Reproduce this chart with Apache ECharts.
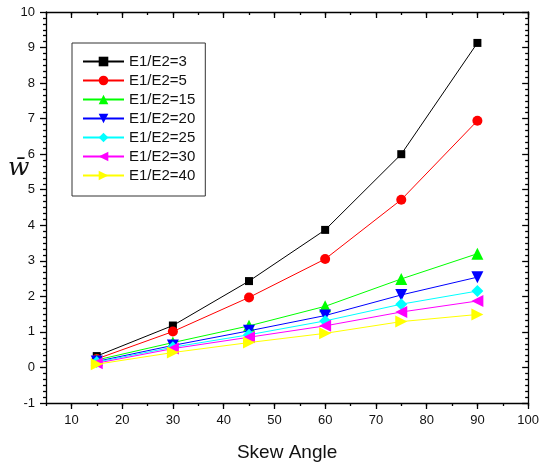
<!DOCTYPE html>
<html>
<head>
<meta charset="utf-8">
<script src="https://cdn.jsdelivr.net/npm/echarts@6/dist/echarts.min.js"></script>
<style>
html,body{margin:0;padding:0;background:#fff;}
#c{width:542px;height:467px;}
</style>
</head>
<body>
<div id="c"></div>
<script>
var skewAngles = [15, 30, 45, 60, 75, 90];
var seriesNames = ['E1/E2=3', 'E1/E2=5', 'E1/E2=15', 'E1/E2=20', 'E1/E2=25', 'E1/E2=30', 'E1/E2=40'];
var w3  = [0.32, 1.18, 2.43, 3.87, 6.00, 9.13];
var w5  = [0.24, 1.01, 1.97, 3.05, 4.72, 6.94];
var w15 = [0.21, 0.70, 1.17, 1.72, 2.49, 3.20];
var w20 = [0.17, 0.62, 1.03, 1.46, 2.04, 2.54];
var w25 = [0.15, 0.57, 0.92, 1.31, 1.78, 2.15];
var w30 = [0.12, 0.53, 0.85, 1.17, 1.56, 1.87];
var w40 = [0.09, 0.42, 0.70, 0.96, 1.29, 1.49];
var xTickLabels = [10, 20, 30, 40, 50, 60, 70, 80, 90, 100];

var values = [w3, w5, w15, w20, w25, w30, w40];
var colors = ['#000000', '#ff0000', '#00ff00', '#0000ff', '#00ffff', '#ff00ff', '#ffff00'];
var symbols = ['rect', 'circle', 'triangle', 'triangle', 'diamond', 'triangle', 'triangle'];
var rotations = [0, 0, 0, 180, 0, 90, -90];
var sizes = [8, 10, 12, 12, 12, 12, 12];

var font = 'Liberation Sans, Arial, sans-serif';
var lineStyle = {color: '#000', width: 1.3};

var series = seriesNames.map(function (name, i) {
  return {
    name: name,
    type: 'line',
    xAxisIndex: 0,
    yAxisIndex: 0,
    data: skewAngles.map(function (x, j) { return [x, values[i][j]]; }),
    symbol: symbols[i],
    symbolSize: sizes[i],
    symbolRotate: rotations[i],
    lineStyle: {color: colors[i], width: 1},
    itemStyle: {color: colors[i]},
    z: 2 + i,
    animation: false
  };
});

function xAx(pos, inside, main) {
  return {
    type: 'value', position: pos, min: 5, max: 100, interval: 5,
    axisLine: {show: main, onZero: false, lineStyle: lineStyle},
    splitLine: {show: false},
    axisTick: {show: true, inside: inside, length: 3, lineStyle: lineStyle},
    axisLabel: {show: false}
  };
}
function xAxMajor(pos, inside, labels) {
  return {
    type: 'value', position: pos, min: 5, max: 100, interval: 5,
    axisLine: {show: false, onZero: false},
    splitLine: {show: false},
    axisTick: {show: true, inside: inside, length: 6, lineStyle: lineStyle, customValues: xTickLabels},
    axisLabel: {show: labels, customValues: xTickLabels, color: '#111', fontFamily: font, fontSize: 13, margin: 11}
  };
}

var bottomMain = xAx('bottom', false, true);
bottomMain.name = 'Skew Angle';
bottomMain.nameLocation = 'middle';
bottomMain.nameGap = 40;
bottomMain.nameTextStyle = {fontFamily: font, fontSize: 19, color: '#111'};

var option = {
  backgroundColor: '#fff',
  animation: false,
  grid: {left: 46, right: 13, top: 12, bottom: 62, containLabel: false},
  legend: {
    orient: 'vertical',
    left: 72, top: 43,
    padding: [11, 10, 13, 10],
    itemWidth: 41, itemHeight: 12, itemGap: 4,
    borderColor: '#333', borderWidth: 1,
    textStyle: {fontFamily: font, fontSize: 15, color: '#111', lineHeight: 14},
    data: seriesNames
  },
  xAxis: [
    bottomMain,
    xAxMajor('bottom', false, true),
    xAx('top', true, true),
    xAxMajor('top', true, false)
  ],
  yAxis: [
    {
      type: 'value', position: 'left', min: -1, max: 10, interval: 1,
      axisLine: {show: true, onZero: false, lineStyle: lineStyle},
      splitLine: {show: false},
      axisTick: {show: true, inside: false, length: 6, lineStyle: lineStyle},
      minorTick: {show: true, splitNumber: 6, length: 3, lineStyle: lineStyle},
      axisLabel: {color: '#111', fontFamily: font, fontSize: 13, margin: 11}
    },
    {
      type: 'value', position: 'right', min: -1, max: 10, interval: 1,
      axisLine: {show: true, onZero: false, lineStyle: lineStyle},
      splitLine: {show: false},
      axisTick: {show: true, inside: true, length: 6, lineStyle: lineStyle},
      minorTick: {show: true, splitNumber: 6, length: 3, lineStyle: lineStyle},
      axisLabel: {show: false}
    }
  ],
  graphic: [{
    type: 'text',
    left: 8, top: 156,
    style: {text: 'w\u0304', font: 'italic 25px "DejaVu Serif", "Liberation Serif", serif', fill: '#111'}
  }],
  series: series
};

var chart = echarts.init(document.getElementById('c'), null, {renderer: 'canvas'});
chart.setOption(option);
</script>
</body>
</html>
